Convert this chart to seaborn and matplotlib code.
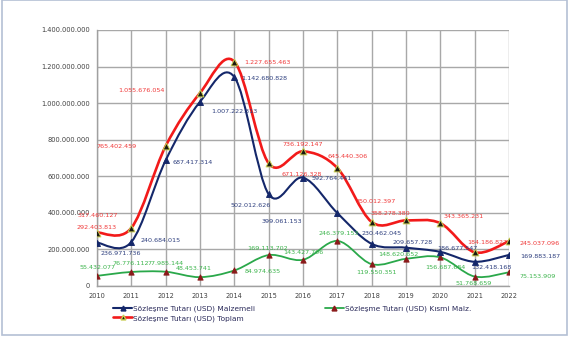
import matplotlib
matplotlib.use("Agg")
import matplotlib.pyplot as plt
import seaborn as sns
import pandas as pd
import numpy as np
from matplotlib.path import Path
from matplotlib.patches import PathPatch, Rectangle
from matplotlib.lines import Line2D
from matplotlib.ticker import FuncFormatter, MultipleLocator

years = [2010, 2011, 2012, 2013, 2014, 2015, 2016, 2017, 2018, 2019, 2020, 2021, 2022]
malzemeli = [236971736, 240684015, 687417314, 1007222313, 1142680828, 502012626, 592764441,
             399061153, 230462045, 209657728, 186677547, 132418168, 169883187]
kismi = [55432077, 76776112, 77985144, 48453741, 84974635, 169113702, 143427706,
         246379153, 119550351, 148620652, 156687684, 51768659, 75153909]
toplam = [292403813, 317460127, 765402459, 1055676054, 1227655463, 671126328, 736192147,
          645440306, 350012397, 358278380, 343365231, 184186827, 245037096]
series_names = ["Sözleşme Tutarı (USD) Malzemeli",
                "Sözleşme Tutarı (USD) Kısmi Malz.",
                "Sözleşme Tutarı (USD) Toplam"]

# label offsets in pixels (dx, dy up) – layout only
off_top = [(0, 5), (-34, 12), (-49, 0), (-59, 2), (33, -1), (33, -11), (0, 7), (10, 11),
           (4, 20), (-16, 7), (23, 7), (13, 10), (31, -2)]
off_mal = [(24, -11), (29, 1), (27, -2), (34, -10), (30, -1), (-18, -11), (29, -1), (-55, -8),
           (10, 10), (7, 5), (17, 3), (17, -6), (31, -2)]
off_kis = [(0, 8), (-1, 8), (0, 8), (-6, 9), (28, -1), (-1, 7), (0, 7), (1, 7),
           (5, -8), (-8, 4), (5, -10), (-1, -7), (29, -4)]

sns.set_style("white")
plt.rcParams['font.family'] = ['DejaVu Sans']

fig = plt.figure(figsize=(5.74, 3.4), dpi=100)
W, H = 574, 340
ax = fig.add_axes([97 / W, (H - 286) / H, (509 - 97) / W, (286 - 30) / H])

def fmt(v):
    return f"{int(round(v)):,}".replace(",", ".")

def smooth_path(xs, ys):
    pts = np.column_stack([xs, ys]).astype(float)
    n = len(pts)
    verts = [pts[0]]
    codes = [Path.MOVETO]
    for i in range(n - 1):
        p0 = pts[max(i - 1, 0)]
        p1 = pts[i]
        p2 = pts[i + 1]
        p3 = pts[min(i + 2, n - 1)]
        c1 = p1 + (p2 - p0) / 6.0
        c2 = p2 - (p3 - p1) / 6.0
        verts += [c1, c2, p2]
        codes += [Path.CURVE4] * 3
    return Path(verts, codes)

df = pd.DataFrame({"year": years, "mal": malzemeli, "kis": kismi, "top": toplam})

specs = [
    ("kis", "#2aa84a", 1.3, "#8a1a1a", "#8a1a1a", 14, "#3cb44c", off_kis, series_names[1]),
    ("mal", "#14276a", 1.5, "#14276a", "#14276a", 18, "#2e3f7e", off_mal, series_names[0]),
    ("top", "#f21a1a", 1.9, "#1a1a10", "#c8cc50", 24, "#f03a3a", off_top, series_names[2]),
]

handles = {}
for col, lc, lw, mfc, mec, ms, tc, offs, name in specs:
    path = smooth_path(df["year"], df[col])
    ax.add_patch(PathPatch(path, facecolor="none", edgecolor=lc, lw=lw, zorder=3))
    sns.scatterplot(data=df, x="year", y=col, marker="^", s=ms, color=mfc,
                    edgecolor=mec, linewidth=0.7, ax=ax, zorder=4, legend=False)
    for x, v, (dx, dy) in zip(df["year"], df[col], offs):
        ax.annotate(fmt(v), (x, v), xytext=(dx, dy), textcoords="offset pixels",
                    ha="center", va="center", fontsize=4.6, color=tc, zorder=5)
    handles[name] = Line2D([], [], color=lc, lw=lw, marker="^", markersize=3.5,
                           markerfacecolor=mfc, markeredgecolor=mec)

ax.set_xlim(2010, 2022)
ax.set_ylim(0, 1.4e9)
ax.xaxis.set_major_locator(MultipleLocator(1))
ax.yaxis.set_major_locator(MultipleLocator(2e8))
ax.xaxis.set_major_formatter(FuncFormatter(lambda v, p: f"{int(v)}"))
ax.yaxis.set_major_formatter(FuncFormatter(lambda v, p: fmt(v)))
ax.grid(True, color="#a8a8a8", lw=1.0)
ax.set_axisbelow(True)
for s in ["top", "right"]:
    ax.spines[s].set_visible(False)
for s in ["left", "bottom"]:
    ax.spines[s].set_color("#a0a0a0")
    ax.spines[s].set_linewidth(1.0)
ax.tick_params(axis="both", labelsize=4.8, colors="#404040", length=3, width=0.8,
               direction="out", pad=2)
for t in ax.get_xticklines() + ax.get_yticklines():
    t.set_color("#a0a0a0")
ax.set_xlabel("")
ax.set_ylabel("")

# column-wise fill: col 1 = Malzemeli, Toplam ; col 2 = Kısmi Malz.
order = [series_names[0], series_names[2], series_names[1]]
leg = fig.legend([handles[n] for n in order], order,
                 loc="upper left", bbox_to_anchor=(110 / W, 1 - 302 / H), ncol=2,
                 frameon=False, fontsize=5.3, handlelength=2.6, handletextpad=0.1,
                 columnspacing=9.5, labelspacing=0.45, borderaxespad=0)
for t in leg.get_texts():
    t.set_color("#2a2a5a")

# outer frame of the chart object
fig.add_artist(Rectangle((2 / W, 5 / H), (567 - 2) / W, (H - 5) / H, transform=fig.transFigure,
                         fill=False, edgecolor="#b4c0d4", lw=1.2))

fig.savefig("out.png", dpi=100)
